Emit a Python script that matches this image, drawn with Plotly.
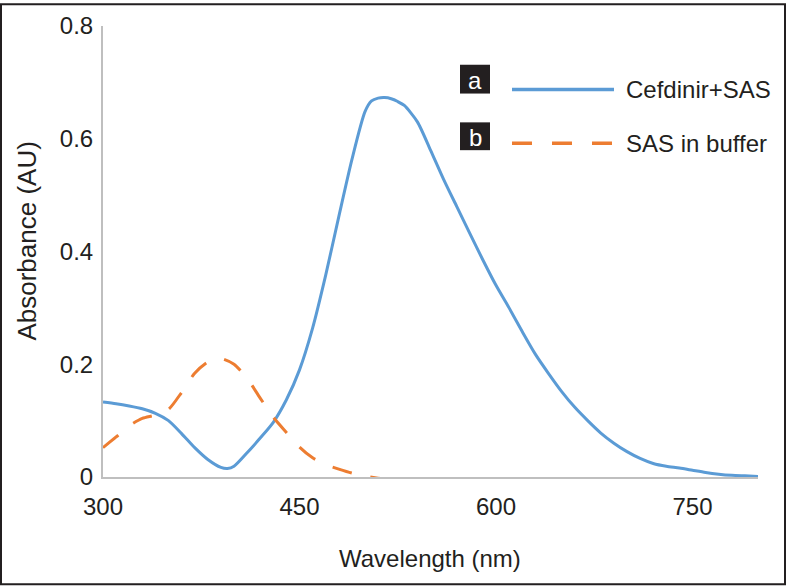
import plotly.graph_objects as go

# ---- data ----
wl_a = [300, 310, 320, 330, 340, 350, 360, 370, 380, 390, 395, 400, 410, 420, 430, 440, 450,
        460, 470, 480, 490, 500, 505, 510, 515, 520, 525, 530, 540, 550, 560, 570, 580, 590, 600, 610, 620,
        630, 640, 650, 660, 670, 680, 690, 700, 710, 720, 730, 740, 750, 760, 770, 780, 790, 800]
abs_a = [0.133, 0.130, 0.126, 0.121, 0.113, 0.100, 0.077, 0.052, 0.031, 0.017, 0.015, 0.019,
         0.043, 0.069, 0.097, 0.137, 0.190, 0.264, 0.358, 0.462, 0.563, 0.648, 0.667, 0.672, 0.673,
         0.671, 0.666, 0.659, 0.630, 0.580, 0.528, 0.480, 0.432, 0.385, 0.340, 0.300, 0.258, 0.218,
         0.184, 0.152, 0.124, 0.100, 0.078, 0.060, 0.045, 0.033, 0.024, 0.019, 0.016, 0.012, 0.008,
         0.005, 0.003, 0.002, 0.001]

wl_b = [300, 310, 320, 330, 340, 350, 360, 370, 380, 390, 400, 410, 420, 430, 440, 450, 460, 470,
        480, 490, 500, 510, 520]
abs_b = [0.052, 0.071, 0.091, 0.104, 0.110, 0.120, 0.150, 0.184, 0.204, 0.210, 0.200, 0.175, 0.140,
         0.106, 0.079, 0.053, 0.034, 0.022, 0.014, 0.007, 0.002, -0.002, -0.003]

series_names = ["Cefdinir+SAS", "SAS in buffer"]
series_tags = ["a", "b"]
x_ticks = [300, 450, 600, 750]
y_ticks = [0, 0.2, 0.4, 0.6, 0.8]
y_ticktext = ["0", "0.2", "0.4", "0.6", "0.8"]

BLUE = "#5B9BD5"
ORANGE = "#ED7D31"
TEXT = "#231F20"
FONT = "Liberation Sans, Arial, sans-serif"

W, H = 786, 586
L, R, T, B = 103, 758, 23, 477  # plot area in pixels


def px(x):
    return (x - L) / (R - L)


def py(y):
    return (B - y) / (B - T)


fig = go.Figure()
fig.add_trace(go.Scatter(x=wl_a, y=abs_a, mode="lines", name=series_names[0],
                         line=dict(color=BLUE, width=3, shape="spline", smoothing=0.7),
                         showlegend=False, hoverinfo="skip"))
fig.add_trace(go.Scatter(x=wl_b, y=abs_b, mode="lines", name=series_names[1],
                         line=dict(color=ORANGE, width=3, dash="20px,19px", shape="spline", smoothing=0.7),
                         showlegend=False, hoverinfo="skip"))

fig.update_layout(
    width=W, height=H,
    margin=dict(l=L, r=W - R, t=T, b=H - B, pad=0),
    paper_bgcolor="white", plot_bgcolor="white",
    font=dict(family=FONT, size=24, color=TEXT),
    showlegend=False,
)
fig.update_xaxes(range=[300, 800], tickvals=x_ticks, showgrid=False, zeroline=False,
                 showline=True, linecolor="#BFBFBF", linewidth=2, ticks="",
                 ticklabelstandoff=7, tickfont=dict(size=24, color=TEXT))
fig.update_yaxes(range=[0, 0.8], tickvals=y_ticks, ticktext=y_ticktext,
                 showgrid=False, zeroline=False, showline=True, linecolor="#BFBFBF", linewidth=2,
                 ticks="", ticklabelstandoff=3, tickfont=dict(size=24, color=TEXT))

ann = []
# axis titles
ann.append(dict(x=px(430), y=py(559), xref="paper", yref="paper", text="Wavelength (nm)",
                showarrow=False, xanchor="center", yanchor="middle", font=dict(size=24, color=TEXT)))
ann.append(dict(x=px(27), y=py(240), xref="paper", yref="paper", text="Absorbance (AU)",
                showarrow=False, xanchor="center", yanchor="middle", textangle=-90,
                font=dict(size=26, color=TEXT)))

shapes = []
rows_y = [87, 141]
box_y = [(62, 91), (120, 148)]
colors = [BLUE, ORANGE]
dashes = ["solid", "20px,20px"]
for i in range(2):
    y0, y1 = box_y[i]
    shapes.append(dict(type="rect", xref="paper", yref="paper", x0=px(460), x1=px(490),
                       y0=py(y1), y1=py(y0), fillcolor="#231F20", line=dict(width=0)))
    ann.append(dict(x=px(475), y=py((y0 + y1) / 2 + 1), xref="paper", yref="paper", text=series_tags[i],
                    showarrow=False, xanchor="center", yanchor="middle",
                    font=dict(size=24, color="white")))
    shapes.append(dict(type="line", xref="paper", yref="paper", x0=px(512), x1=px(614),
                       y0=py(rows_y[i]), y1=py(rows_y[i]),
                       line=dict(color=colors[i], width=3.5, dash=dashes[i])))
    ann.append(dict(x=px(624), y=py(rows_y[i]), xref="paper", yref="paper", text=series_names[i],
                    showarrow=False, xanchor="left", yanchor="middle",
                    font=dict(size=24, color=TEXT)))

# outer frame
shapes.append(dict(type="rect", xref="paper", yref="paper", x0=px(1), x1=px(W - 1),
                   y0=py(H - 1), y1=py(1), line=dict(color="#231F20", width=2), fillcolor="rgba(0,0,0,0)"))

fig.update_layout(annotations=ann, shapes=shapes)
fig.write_html("out.html", config={"displayModeBar": False, "staticPlot": True},
               post_script="document.body.style.margin='0';document.body.style.padding='0';"
                           "document.documentElement.style.overflow='hidden';")
